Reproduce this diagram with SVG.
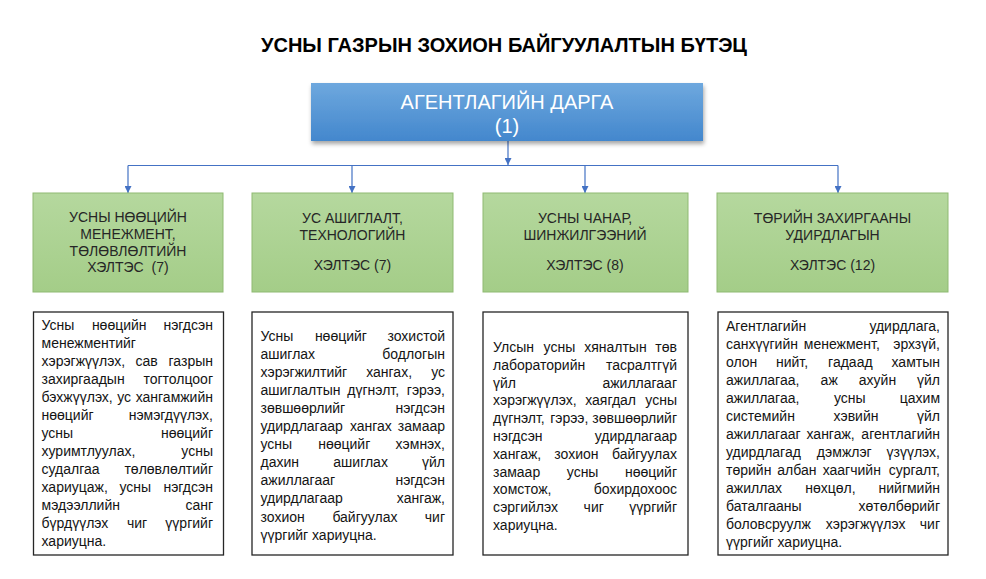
<svg xmlns="http://www.w3.org/2000/svg" width="986" height="579" viewBox="0 0 986 579">
<style>
text{font-family:"Liberation Sans",Arial,sans-serif}
.d{font-size:14px;fill:#141414}
.e{text-anchor:end}
.g{font-size:14px;fill:#262626;text-anchor:middle}
.w{font-size:20px;fill:#ffffff;text-anchor:middle}
.gb{fill:url(#gg);stroke:#8fba72;stroke-width:1}
.db{fill:#ffffff;stroke:#262626;stroke-width:1.3}
.c{fill:none;stroke:#4472c4;stroke-width:1.2}
</style>
<defs>
<linearGradient id="bg" x1="0" y1="0" x2="0" y2="1">
<stop offset="0" stop-color="#6ea8de"/>
<stop offset="1" stop-color="#4387cd"/>
</linearGradient>
<linearGradient id="gg" x1="0" y1="0" x2="0" y2="1">
<stop offset="0" stop-color="#b5d89e"/>
<stop offset="1" stop-color="#a4cd88"/>
</linearGradient>
<filter id="sh" x="-10%" y="-20%" width="120%" height="150%">
<feDropShadow dx="1" dy="3" stdDeviation="2" flood-color="#000" flood-opacity="0.35"/>
</filter>
<marker id="ah" viewBox="0 0 10 10" refX="10" refY="5" markerWidth="7" markerHeight="7" markerUnits="userSpaceOnUse" orient="auto">
<path d="M0,0 L10,5 L0,10 z" fill="#4472c4"/>
</marker>
</defs>
<rect width="986" height="579" fill="#ffffff"/>

<text id="title" x="261" y="52" font-size="21" font-weight="bold" fill="#000" textLength="486" lengthAdjust="spacingAndGlyphs">УСНЫ ГАЗРЫН ЗОХИОН БАЙГУУЛАЛТЫН БҮТЭЦ</text>

<g id="connectors">
<path class="c" d="M508,141 V165" marker-end="url(#ah)"/>
<path class="c" d="M128,165.5 H838"/>
<path class="c" d="M128,165.5 V193" marker-end="url(#ah)"/>
<path class="c" d="M352,165.5 V193" marker-end="url(#ah)"/>
<path class="c" d="M585,165.5 V193" marker-end="url(#ah)"/>
<path class="c" d="M838,165.5 V193" marker-end="url(#ah)"/>
</g>

<g id="head">
<rect x="311" y="83" width="392" height="58" fill="url(#bg)" filter="url(#sh)"/>
<text class="w" x="507" y="109">АГЕНТЛАГИЙН ДАРГА</text>
<text class="w" x="507" y="133">(1)</text>
</g>

<g id="dept1">
<rect class="gb" x="33" y="193" width="190" height="99"/>
<text class="g" x="128" y="222">УСНЫ НӨӨЦИЙН</text>
<text class="g" x="128" y="239">МЕНЕЖМЕНТ,</text>
<text class="g" x="128" y="255.5">ТӨЛӨВЛӨЛТИЙН</text>
<text class="g" x="128" y="272">ХЭЛТЭС&#160; (7)</text>
</g>
<g id="dept2">
<rect class="gb" x="252" y="193" width="201" height="99"/>
<text class="g" x="352.5" y="223">УС АШИГЛАЛТ,</text>
<text class="g" x="352.5" y="240">ТЕХНОЛОГИЙН</text>
<text class="g" x="352.5" y="270">ХЭЛТЭС (7)</text>
</g>
<g id="dept3">
<rect class="gb" x="483" y="193" width="205" height="99"/>
<text class="g" x="585" y="223">УСНЫ ЧАНАР,</text>
<text class="g" x="585" y="240">ШИНЖИЛГЭЭНИЙ</text>
<text class="g" x="585" y="270">ХЭЛТЭС (8)</text>
</g>
<g id="dept4">
<rect class="gb" x="717" y="193" width="231" height="99"/>
<text class="g" x="832.5" y="223">ТӨРИЙН ЗАХИРГААНЫ</text>
<text class="g" x="832.5" y="240">УДИРДЛАГЫН</text>
<text class="g" x="832.5" y="270">ХЭЛТЭС (12)</text>
</g>

<g id="desc1">
<rect class="db" x="33.5" y="312" width="190" height="243"/>
<text class="d" y="329.5"><tspan x="41.5">Усны</tspan><tspan x="91.9">нөөцийн</tspan></text><text class="d e" x="213" y="329.5">нэгдсэн</text>
<text class="d" x="41.5" y="347.5">менежментийг</text>
<text class="d" y="365.5"><tspan x="41.5">хэрэгжүүлэх,</tspan><tspan x="135.5">сав</tspan></text><text class="d e" x="213" y="365.5">газрын</text>
<text class="d" x="41.5" y="383.5">захиргаадын</text><text class="d e" x="213" y="383.5">тогтолцоог</text>
<text class="d" y="401.5"><tspan x="41.5">бэхжүүлэх,</tspan><tspan x="117.2">ус</tspan></text><text class="d e" x="213" y="401.5">хангамжийн</text>
<text class="d" x="41.5" y="419.5">нөөцийг</text><text class="d e" x="213" y="419.5">нэмэгдүүлэх,</text>
<text class="d" x="41.5" y="437.5">усны</text><text class="d e" x="213" y="437.5">нөөцийг</text>
<text class="d" x="41.5" y="455.5">хуримтлуулах,</text><text class="d e" x="213" y="455.5">усны</text>
<text class="d" x="41.5" y="473.5">судалгаа</text><text class="d e" x="213" y="473.5">төлөвлөлтийг</text>
<text class="d" y="491.5"><tspan x="41.5">хариуцаж,</tspan><tspan x="119.5">усны</tspan></text><text class="d e" x="213" y="491.5">нэгдсэн</text>
<text class="d" x="41.5" y="509.5">мэдээллийн</text><text class="d e" x="213" y="509.5">санг</text>
<text class="d" y="527.5"><tspan x="41.5">бүрдүүлэх</tspan><tspan x="126.9">чиг</tspan></text><text class="d e" x="213" y="527.5">үүргийг</text>
<text class="d" x="41.5" y="545.5">хариуцна.</text>
</g>

<g id="desc2">
<rect class="db" x="252" y="312" width="201" height="243"/>
<text class="d" y="340.5"><tspan x="260.5">Усны</tspan><tspan x="314.9">нөөцийг</tspan></text><text class="d e" x="445" y="340.5">зохистой</text>
<text class="d" x="260.5" y="358.6">ашиглах</text><text class="d e" x="445" y="358.6">бодлогын</text>
<text class="d" y="376.7"><tspan x="260.5">хэрэгжилтийг</tspan><tspan x="366.2">хангах,</tspan></text><text class="d e" x="445" y="376.7">ус</text>
<text class="d" y="394.8"><tspan x="260.5">ашиглалтын</tspan><tspan x="347.3">дүгнэлт,</tspan></text><text class="d e" x="445" y="394.8">гэрээ,</text>
<text class="d" x="260.5" y="412.9">зөвшөөрлийг</text><text class="d e" x="445" y="412.9">нэгдсэн</text>
<text class="d" y="431"><tspan x="260.5">удирдлагаар</tspan><tspan x="349.9">хангах</tspan></text><text class="d e" x="445" y="431">замаар</text>
<text class="d" y="449.1"><tspan x="260.5">усны</tspan><tspan x="318.2">нөөцийг</tspan></text><text class="d e" x="445" y="449.1">хэмнэх,</text>
<text class="d" y="467.2"><tspan x="260.5">дахин</tspan><tspan x="333.3">ашиглах</tspan></text><text class="d e" x="445" y="467.2">үйл</text>
<text class="d" x="260.5" y="485.3">ажиллагааг</text><text class="d e" x="445" y="485.3">нэгдсэн</text>
<text class="d" x="260.5" y="503.4">удирдлагаар</text><text class="d e" x="445" y="503.4">хангаж,</text>
<text class="d" y="521.5"><tspan x="260.5">зохион</tspan><tspan x="332.4">байгуулах</tspan></text><text class="d e" x="445" y="521.5">чиг</text>
<text class="d" x="260.5" y="539.6">үүргийг хариуцна.</text>
</g>

<g id="desc3">
<rect class="db" x="483" y="312" width="205" height="243"/>
<text class="d" y="352"><tspan x="493">Улсын</tspan><tspan x="543.6">усны</tspan><tspan x="584.2">хяналтын</tspan></text><text class="d e" x="677" y="352">төв</text>
<text class="d" x="493" y="369.8">лабораторийн</text><text class="d e" x="677" y="369.8">тасралтгүй</text>
<text class="d" x="493" y="387.6">үйл</text><text class="d e" x="677" y="387.6">ажиллагааг</text>
<text class="d" y="405.4"><tspan x="493">хэрэгжүүлэх,</tspan><tspan x="585.2">хаягдал</tspan></text><text class="d e" x="677" y="405.4">усны</text>
<text class="d" y="423.2"><tspan x="493">дүгнэлт,</tspan><tspan x="550.2">гэрээ,</tspan></text><text class="d e" x="677" y="423.2">зөвшөөрлийг</text>
<text class="d" x="493" y="441">нэгдсэн</text><text class="d e" x="677" y="441">удирдлагаар</text>
<text class="d" y="458.8"><tspan x="493">хангаж,</tspan><tspan x="554.3">зохион</tspan></text><text class="d e" x="677" y="458.8">байгуулах</text>
<text class="d" y="476.6"><tspan x="493">замаар</tspan><tspan x="566.8">усны</tspan></text><text class="d e" x="677" y="476.6">нөөцийг</text>
<text class="d" x="493" y="494.4">хомстож,</text><text class="d e" x="677" y="494.4">бохирдохоос</text>
<text class="d" y="512.2"><tspan x="493">сэргийлэх</tspan><tspan x="583.6">чиг</tspan></text><text class="d e" x="677" y="512.2">үүргийг</text>
<text class="d" x="493" y="530">хариуцна.</text>
</g>

<g id="desc4">
<rect class="db" x="718" y="312" width="230" height="243"/>
<text class="d" x="726" y="331">Агентлагийн</text><text class="d e" x="940" y="331">удирдлага,</text>
<text class="d" y="349"><tspan x="726">санхүүгийн</tspan><tspan x="803.8">менежмент,</tspan></text><text class="d e" x="940" y="349">эрхзүй,</text>
<text class="d" y="367"><tspan x="726">олон</tspan><tspan x="776">нийт,</tspan><tspan x="828.1">гадаад</tspan></text><text class="d e" x="940" y="367">хамтын</text>
<text class="d" y="385"><tspan x="726">ажиллагаа,</tspan><tspan x="820.6">аж</tspan><tspan x="858.8">ахуйн</tspan></text><text class="d e" x="940" y="385">үйл</text>
<text class="d" y="403"><tspan x="726">ажиллагаа,</tspan><tspan x="833.9">усны</tspan></text><text class="d e" x="940" y="403">цахим</text>
<text class="d" y="421"><tspan x="726">системийн</tspan><tspan x="833.5">хэвийн</tspan></text><text class="d e" x="940" y="421">үйл</text>
<text class="d" y="439"><tspan x="726">ажиллагааг</tspan><tspan x="806.5">хангаж,</tspan></text><text class="d e" x="940" y="439">агентлагийн</text>
<text class="d" y="457"><tspan x="726">удирдлагад</tspan><tspan x="816.8">дэмжлэг</tspan></text><text class="d e" x="940" y="457">үзүүлэх,</text>
<text class="d" y="475"><tspan x="726">төрийн</tspan><tspan x="777.3">албан</tspan><tspan x="822.7">хаагчийн</tspan></text><text class="d e" x="940" y="475">сургалт,</text>
<text class="d" y="493"><tspan x="726">ажиллах</tspan><tspan x="805.2">нөхцөл,</tspan></text><text class="d e" x="940" y="493">нийгмийн</text>
<text class="d" x="726" y="511">баталгааны</text><text class="d e" x="940" y="511">хөтөлбөрийг</text>
<text class="d" y="529"><tspan x="726">боловсруулж</tspan><tspan x="825.8">хэрэгжүүлэх</tspan></text><text class="d e" x="940" y="529">чиг</text>
<text class="d" x="726" y="547">үүргийг хариуцна.</text>
</g>
</svg>
